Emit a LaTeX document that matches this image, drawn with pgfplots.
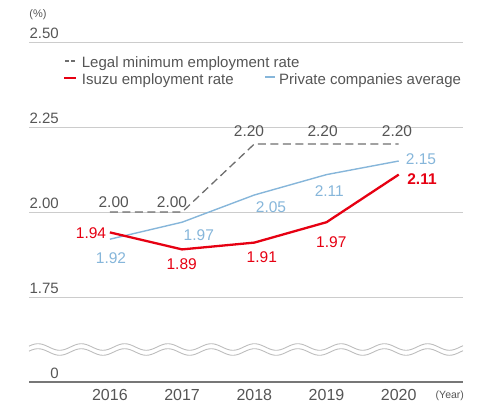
\documentclass[border=0pt]{standalone}
\usepackage{fontspec}
\setmainfont{Liberation Sans}
\usepackage{pgfplots}
\pgfplotsset{compat=1.18}
\definecolor{isred}{HTML}{E60012}
\definecolor{pvblue}{HTML}{86B6DA}
\definecolor{lgray}{HTML}{6E6E6E}
\definecolor{txtgray}{HTML}{555555}
\definecolor{gridgray}{HTML}{CCCCCC}
\definecolor{basegray}{HTML}{777777}
\definecolor{wavegray}{HTML}{BDBDBD}
\newcommand{\lab}[4]{\node[text=#3, inner sep=0pt, font=\fontsize{15.5}{18}\selectfont] at (#1,{407-#2}) {#4};}
\begin{document}
\begin{tikzpicture}[x=1pt,y=1pt]
\useasboundingbox (0,0) rectangle (486,407);
\begin{axis}[at={(29pt,25pt)}, anchor=south west, scale only axis,
  width=434pt, height=340pt,
  xmin=-1.12, xmax=4.89, ymin=1.5, ymax=2.5, clip=false,
  axis line style={draw=none}, major tick length=0pt, no markers,
  xtick={0,...,4}, xticklabels={2016,2017,2018,2019,2020},
  ytick={1.5,1.75,2,2.25,2.5}, yticklabels={0,1.75,2.00,2.25,2.50},
  ymajorgrids, grid style={gridgray, line width=0.9pt},
  /pgf/number format/assume math mode=true,
  yticklabel style={anchor=south east, inner sep=0pt, xshift=30pt, yshift=3pt,
    font=\fontsize{15}{18}\selectfont, text=txtgray},
  xticklabel style={anchor=north, inner sep=0pt, yshift=-7pt,
    font=\fontsize{16}{19}\selectfont, text=txtgray},
]
\addplot[lgray, line width=1.3pt, dash pattern=on 8pt off 4.5pt] coordinates {(0,2.00)(1,2.00)(2,2.20)(3,2.20)(4,2.20)};
\addplot[pvblue, line width=1.4pt] coordinates {(0,1.92)(1,1.97)(2,2.05)(3,2.11)(4,2.15)};
\addplot[isred, line width=2.3pt] coordinates {(0,1.94)(1,1.89)(2,1.91)(3,1.97)(4,2.11)};
\end{axis}
% baseline and break
\draw[basegray, line width=1.3pt] (29,25) -- (463,25);
\draw[wavegray, line width=0.9pt] plot[domain=29:463, samples=160, smooth] (\x, {60+3.3*cos(8.314*(\x-38))});
\draw[wavegray, line width=0.9pt] plot[domain=29:463, samples=160, smooth] (\x, {55+3.3*cos(8.314*(\x-38))});
% units
\node[text=txtgray, inner sep=0pt, font=\fontsize{11}{13}\selectfont] at (38,{407-14.5}) {(\%)};
\node[text=txtgray, inner sep=0pt, font=\fontsize{10.5}{12}\selectfont] at (449.8,{407-395.7}) {(Year)};
% legend
\draw[lgray, line width=1.3pt, dash pattern=on 4pt off 2pt] (65,{407-61}) -- (76,{407-61});
\node[anchor=base west, inner sep=0pt, text=txtgray, font=\fontsize{15}{18}\selectfont] at (81.7,{407-67.3}) {Legal minimum employment rate};
\draw[isred, line width=2.3pt] (64.3,{407-78}) -- (75.7,{407-78});
\node[anchor=base west, inner sep=0pt, text=txtgray, font=\fontsize{15}{18}\selectfont] at (81.7,{407-84.5}) {Isuzu employment rate};
\draw[pvblue, line width=1.4pt] (265,{407-77}) -- (275,{407-77});
\node[anchor=base west, inner sep=0pt, text=txtgray, font=\fontsize{15}{18}\selectfont] at (279,{407-84.5}) {Private companies average};
% data labels
\lab{113.7}{201.7}{txtgray}{2.00}
\lab{172}{201.7}{txtgray}{2.00}
\lab{249}{131}{txtgray}{2.20}
\lab{322.6}{131}{txtgray}{2.20}
\lab{397}{131}{txtgray}{2.20}
\lab{91}{233.3}{isred}{1.94}
\lab{181.7}{264.5}{isred}{1.89}
\lab{261.8}{257.5}{isred}{1.91}
\lab{331.3}{241.8}{isred}{1.97}
\lab{422}{179.5}{isred}{\bfseries 2.11}
\lab{111}{257.8}{pvblue}{1.92}
\lab{198.8}{235}{pvblue}{1.97}
\lab{271}{207.5}{pvblue}{2.05}
\lab{329.3}{190.8}{pvblue}{2.11}
\lab{421}{159.2}{pvblue}{2.15}
\end{tikzpicture}
\end{document}
